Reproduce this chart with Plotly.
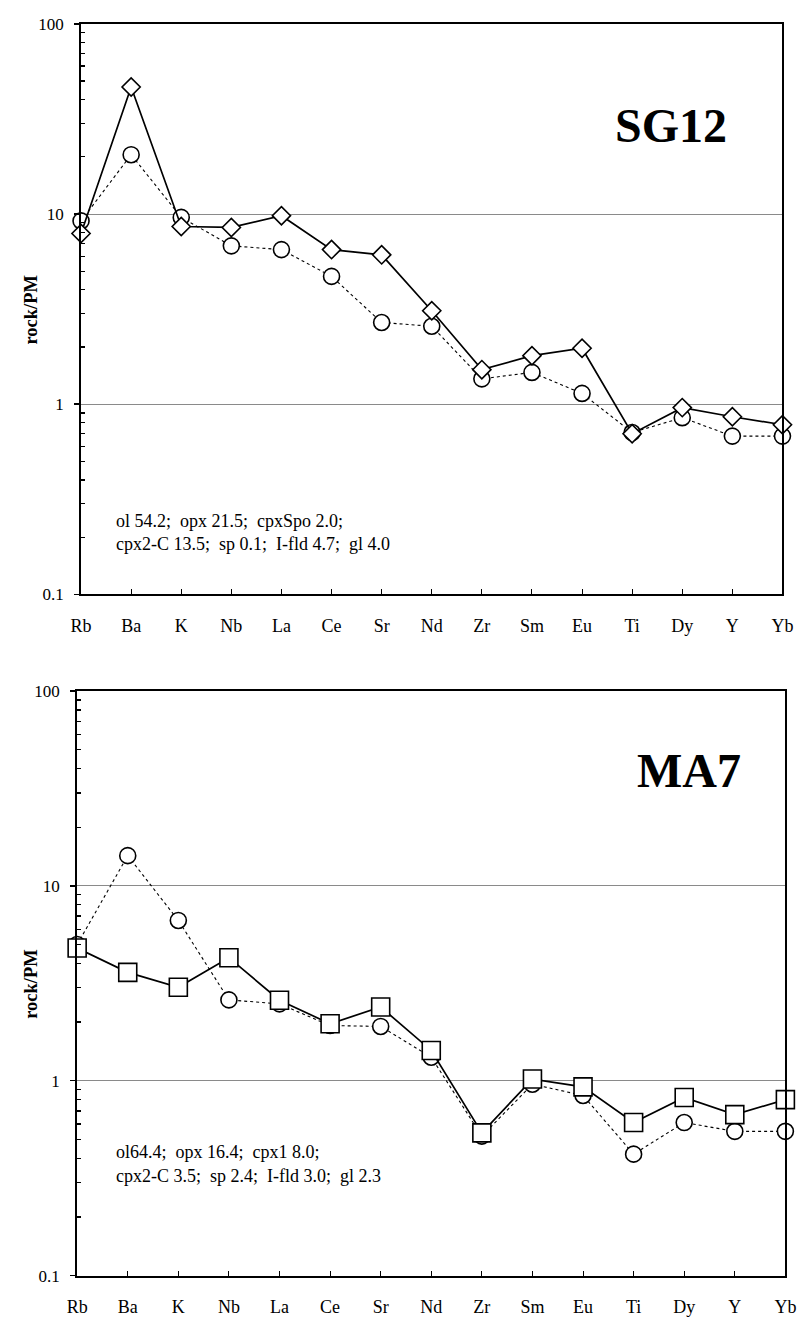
import plotly.graph_objects as go

elements = ["Rb", "Ba", "K", "Nb", "La", "Ce", "Sr", "Nd", "Zr", "Sm", "Eu", "Ti", "Dy", "Y", "Yb"]

# SG12 panel
sg12_diamond = [7.9, 46.5, 8.6, 8.5, 9.8, 6.5, 6.1, 3.1, 1.52, 1.8, 1.97, 0.70, 0.96, 0.86, 0.78]
sg12_circle = [9.2, 20.5, 9.6, 6.8, 6.5, 4.7, 2.69, 2.57, 1.36, 1.47, 1.14, 0.71, 0.85, 0.68, 0.68]

# MA7 panel
ma7_square = [4.8, 3.6, 3.02, 4.28, 2.59, 1.96, 2.39, 1.43, 0.54, 1.02, 0.93, 0.61, 0.82, 0.67, 0.80]
ma7_circle = [5.0, 14.3, 6.65, 2.6, 2.48, 1.92, 1.90, 1.32, 0.52, 0.96, 0.84, 0.42, 0.61, 0.55, 0.55]

sg12_label = "SG12"
ma7_label = "MA7"
sg12_note = ["ol 54.2;  opx 21.5;  cpxSpo 2.0;", "cpx2-C 13.5;  sp 0.1;  I-fld 4.7;  gl 4.0"]
ma7_note = ["ol64.4;  opx 16.4;  cpx1 8.0;", "cpx2-C 3.5;  sp 2.4;  I-fld 3.0;  gl 2.3"]
y_title = "rock/PM"

W, H = 810, 1325
FONT = "Liberation Serif, Times New Roman, serif"
xpos = list(range(len(elements)))

fig = go.Figure()

def add_series(vals, symbol, size, dashed, xa, ya):
    fig.add_trace(go.Scatter(
        x=xpos, y=vals, xaxis=xa, yaxis=ya, mode="lines+markers",
        line=dict(color="black", width=1.1 if dashed else 1.7, dash="3px,3px" if dashed else "solid"),
        marker=dict(symbol=symbol, size=size, color="white", line=dict(color="black", width=1.6)),
        showlegend=False, cliponaxis=False,
    ))

# top panel
add_series(sg12_circle, "circle", 16, True, "x", "y")
add_series(sg12_diamond, "diamond", 14, False, "x", "y")
# bottom panel
add_series(ma7_circle, "circle", 16, True, "x2", "y2")
add_series(ma7_square, "square", 18, False, "x2", "y2")

def px_x(p):
    return p / W

def px_y(p):
    return 1 - p / H

top_dom_y = [px_y(594), px_y(15)]
bot_dom_y = [px_y(1285), px_y(692)]
top_dom_x = [px_x(72), px_x(793)]
bot_dom_x = [px_x(68), px_x(796)]

xcommon = dict(
    range=[0, len(elements) - 1], tickmode="array", tickvals=xpos, ticktext=elements,
    ticks="inside", ticklen=5, tickcolor="black", tickwidth=1,
    showline=True, linecolor="black", linewidth=2, mirror=True,
    showgrid=False, zeroline=False, ticklabelstandoff=14,
    tickfont=dict(family=FONT, size=18, color="black"),
)
ycommon = dict(
    type="log", range=[-1, 2], tickmode="array", tickvals=[0.1, 1, 10, 100],
    ticktext=["0.1", "1", "10", "100"],
    ticks="outside", ticklen=5, tickcolor="black", tickwidth=1.5,
    showline=True, linecolor="black", linewidth=2, mirror=True,
    showgrid=True, gridcolor="#8a8a8a", gridwidth=1, zeroline=False,
    ticklabelstandoff=7,
    tickfont=dict(family=FONT, size=17, color="black"),
    minor=dict(tickmode="array",
               tickvals=[v * d for d in (0.1, 1, 10) for v in range(2, 10)],
               ticks="inside", ticklen=4, tickcolor="black", tickwidth=1.2, showgrid=False),
)

fig.update_layout(
    width=W, height=H, margin=dict(l=0, r=0, t=0, b=0),
    paper_bgcolor="white", plot_bgcolor="white",
    xaxis=dict(domain=top_dom_x, anchor="y", **xcommon),
    yaxis=dict(domain=top_dom_y, anchor="x", **ycommon),
    xaxis2=dict(domain=bot_dom_x, anchor="y2", **xcommon),
    yaxis2=dict(domain=bot_dom_y, anchor="x2", **ycommon),
)

ann = []
ann.append(dict(text="<b>" + sg12_label + "</b>", x=px_x(678), y=px_y(118), xref="paper", yref="paper",
                showarrow=False, font=dict(family=FONT, size=48, color="black"), xanchor="center", yanchor="middle"))
ann.append(dict(text="<b>" + ma7_label + "</b>", x=px_x(697), y=px_y(773), xref="paper", yref="paper",
                showarrow=False, font=dict(family=FONT, size=48, color="black"), xanchor="center", yanchor="middle"))
for yc in ((15 + 594) / 2, (692 + 1285) / 2):
    ann.append(dict(text="<b>" + y_title + "</b>", x=px_x(21), y=px_y(yc), xref="paper", yref="paper",
                    showarrow=False, textangle=-90, font=dict(family=FONT, size=18.5, color="black"),
                    xanchor="center", yanchor="middle"))
for note, ys in ((sg12_note, (519, 543)), (ma7_note, (1160, 1184))):
    for line, yy in zip(note, ys):
        ann.append(dict(text=line.replace("  ", "&nbsp; "), x=px_x(106), y=px_y(yy), xref="paper", yref="paper",
                        showarrow=False, font=dict(family=FONT, size=18, color="black"),
                        xanchor="left", yanchor="middle"))
fig.update_layout(annotations=ann)

fig.write_html("out.html", config={"displayModeBar": False, "staticPlot": True},
               post_script="document.body.style.margin='0';document.body.style.overflow='hidden';")
